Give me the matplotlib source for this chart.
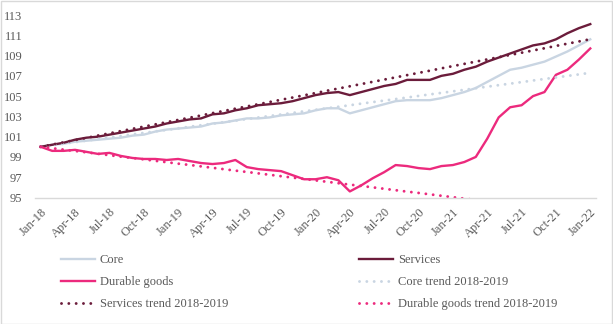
import matplotlib
matplotlib.use("Agg")
import matplotlib.pyplot as plt
from matplotlib.patches import Rectangle

# Monthly index, Jan-2018 = 100
months = ["Jan-18", "Feb-18", "Mar-18", "Apr-18", "May-18", "Jun-18", "Jul-18", "Aug-18", "Sep-18", "Oct-18", "Nov-18", "Dec-18",
          "Jan-19", "Feb-19", "Mar-19", "Apr-19", "May-19", "Jun-19", "Jul-19", "Aug-19", "Sep-19", "Oct-19", "Nov-19", "Dec-19",
          "Jan-20", "Feb-20", "Mar-20", "Apr-20", "May-20", "Jun-20", "Jul-20", "Aug-20", "Sep-20", "Oct-20", "Nov-20", "Dec-20",
          "Jan-21", "Feb-21", "Mar-21", "Apr-21", "May-21", "Jun-21", "Jul-21", "Aug-21", "Sep-21", "Oct-21", "Nov-21", "Dec-21",
          "Jan-22"]

core = [100.0, 100.2, 100.3, 100.5, 100.6, 100.7, 100.8, 100.9, 101.1, 101.2, 101.5, 101.7,
        101.8, 101.9, 102.0, 102.3, 102.4, 102.6, 102.8, 102.8, 102.9, 103.1, 103.2, 103.3,
        103.6, 103.8, 103.8, 103.3, 103.6, 103.9, 104.2, 104.5, 104.6, 104.6, 104.6, 104.8,
        105.1, 105.4, 105.8, 106.4, 107.0, 107.6, 107.8, 108.1, 108.4, 108.9, 109.4, 110.0,
        110.6]

services = [100.0, 100.2, 100.4, 100.7, 100.9, 101.0, 101.2, 101.4, 101.6, 101.8, 102.0, 102.3,
            102.5, 102.7, 102.8, 103.2, 103.3, 103.6, 103.8, 104.1, 104.2, 104.3, 104.5, 104.8,
            105.1, 105.3, 105.4, 105.1, 105.4, 105.7, 106.0, 106.2, 106.6, 106.6, 106.6, 107.0,
            107.2, 107.6, 107.9, 108.4, 108.8, 109.2, 109.6, 110.0, 110.2, 110.6, 111.2, 111.7,
            112.1]

durable = [100.0, 99.6, 99.6, 99.7, 99.5, 99.3, 99.4, 99.1, 98.9, 98.8, 98.8, 98.7,
           98.8, 98.6, 98.4, 98.3, 98.4, 98.7, 98.0, 97.8, 97.7, 97.6, 97.2, 96.8,
           96.8, 97.0, 96.7, 95.6, 96.2, 96.9, 97.5, 98.2, 98.1, 97.9, 97.8, 98.1,
           98.2, 98.5, 99.0, 100.8, 102.9, 103.9, 104.1, 105.0, 105.4, 107.1, 107.6, 108.6,
           109.7]

# Linear trends fitted on 2018-2019, extended forward
core_trend = [100.00, 100.15, 100.30, 100.46, 100.61, 100.76, 100.91, 101.06, 101.22, 101.37, 101.52, 101.67,
              101.82, 101.98, 102.13, 102.28, 102.43, 102.58, 102.74, 102.89, 103.04, 103.19, 103.34, 103.50,
              103.65, 103.80, 103.95, 104.10, 104.26, 104.41, 104.56, 104.71, 104.86, 105.02, 105.17, 105.32,
              105.47, 105.62, 105.78, 105.93, 106.08, 106.23, 106.38, 106.54, 106.69, 106.84, 106.99, 107.14,
              107.30]

services_trend = [100.00, 100.22, 100.44, 100.66, 100.88, 101.11, 101.33, 101.55, 101.77, 101.99, 102.21, 102.43,
                  102.65, 102.87, 103.09, 103.32, 103.54, 103.76, 103.98, 104.20, 104.42, 104.64, 104.86, 105.08,
                  105.30, 105.53, 105.75, 105.97, 106.19, 106.41, 106.63, 106.85, 107.07, 107.29, 107.51, 107.74,
                  107.96, 108.18, 108.40, 108.62, 108.84, 109.06, 109.28, 109.50, 109.72, 109.95, 110.17, 110.39,
                  110.61]

durable_trend = [100.00, 99.86, 99.72, 99.59, 99.45, 99.31, 99.17, 99.03, 98.90, 98.76, 98.62, 98.48,
                 98.34, 98.21, 98.07, 97.93, 97.79, 97.65, 97.52, 97.38, 97.24, 97.10, 96.96, 96.83,
                 96.69, 96.55, 96.41, 96.27, 96.14, 96.00, 95.86, 95.72, 95.58, 95.45, 95.31, 95.17,
                 95.03, 94.89, 94.76, 94.62, 94.48, 94.34, 94.20, 94.07, 93.93, 93.79, 93.65, 93.51,
                 93.38]

y_ticks = [95, 97, 99, 101, 103, 105, 107, 109, 111, 113]

C_CORE = "#C9D5E2"
C_SERV = "#6B1C3B"
C_DUR = "#EC2A7D"
TXT = "#595959"
FONT = ["Liberation Serif", "DejaVu Serif"]

plt.rcParams["font.family"] = FONT

fig = plt.figure(figsize=(6.13, 3.24), dpi=100)
ax = fig.add_axes([35 / 613, 1 - 197.5 / 324, (596 - 35) / 613, (197.5 - 15) / 324])

x = list(range(len(months)))
dot = (0, (0.01, 2.5))

l_core, = ax.plot(x, core, color=C_CORE, lw=1.7, solid_joinstyle="round")
l_serv, = ax.plot(x, services, color=C_SERV, lw=1.7, solid_joinstyle="round")
l_dur, = ax.plot(x, durable, color=C_DUR, lw=1.7, solid_joinstyle="round")
l_ct, = ax.plot(x, core_trend, color=C_CORE, lw=2.1, linestyle=dot, dash_capstyle="round")
l_st, = ax.plot(x, services_trend, color=C_SERV, lw=2.1, linestyle=dot, dash_capstyle="round")
l_dt, = ax.plot(x, durable_trend, color=C_DUR, lw=2.1, linestyle=dot, dash_capstyle="round")

ax.set_xlim(-0.5, len(months) - 0.5)
ax.set_ylim(95, 113)
ax.set_yticks(y_ticks)
ax.set_yticklabels([str(v) for v in y_ticks])
ax.set_xticks(x[::3])
ax.set_xticklabels(months[::3], rotation=45, ha="right", rotation_mode="anchor")

for side in ["top", "right", "left"]:
    ax.spines[side].set_visible(False)
ax.spines["bottom"].set_color("#D9D9D9")
ax.spines["bottom"].set_linewidth(1.0)
ax.tick_params(axis="both", length=0, labelsize=9, colors=TXT)
ax.tick_params(axis="x", pad=6)
ax.tick_params(axis="y", pad=9)

leg_kw = dict(loc="upper left", frameon=False, fontsize=9, handlelength=2.75,
              handletextpad=0.35, labelspacing=0.8, borderpad=0, borderaxespad=0,
              labelcolor=TXT)
fig.legend([l_core, l_dur, l_st], ["Core", "Durable goods", "Services trend 2018-2019"],
           bbox_to_anchor=(61 / 613, 1 - 254 / 324), **leg_kw)
fig.legend([l_serv, l_ct, l_dt], ["Services", "Core trend 2018-2019", "Durable goods trend 2018-2019"],
           bbox_to_anchor=(359 / 613, 1 - 254 / 324), **leg_kw)

fig.patches.append(Rectangle((0.5 / 613, 0.5 / 324), 1 - 1.5 / 613, 1 - 1.5 / 324,
                             transform=fig.transFigure, fill=False,
                             edgecolor="#D9D9D9", lw=1.0))

fig.savefig("out.png", dpi=100)
